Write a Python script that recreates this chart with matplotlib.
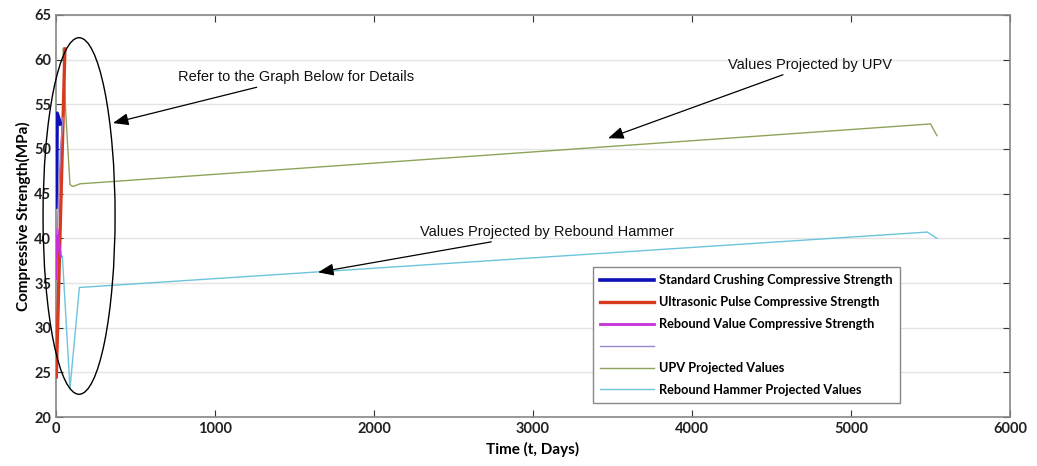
import numpy as np
import matplotlib
matplotlib.use("Agg")
import matplotlib.pyplot as plt
from matplotlib.patches import Ellipse

# series (t in days, strength in MPa)
std_t = [3, 7, 14, 28]
std_v = [43.5, 54.0, 53.6, 52.8]
upv_t = [2, 56]
upv_v = [24.5, 61.2]
rbv_t = [1, 7, 28]
rbv_v = [35.5, 41.0, 38.0]
blank_t = [7, 28, 45]
blank_v = [40.5, 50.0, 53.5]
upv_proj_t = [44, 63, 88, 107, 150, 5500, 5540]
upv_proj_v = [61.2, 53.5, 46.0, 45.8, 46.1, 52.8, 51.5]
rh_proj_t = [40, 88, 147, 5480, 5540]
rh_proj_v = [38.0, 23.2, 34.5, 40.7, 40.0]

labels = ["Standard Crushing Compressive Strength",
          "Ultrasonic Pulse Compressive Strength",
          "Rebound Value Compressive Strength",
          " ",
          "UPV Projected Values",
          "Rebound Hammer Projected Values"]

fig = plt.figure(figsize=(10.37, 4.66), dpi=100)
ax = fig.add_axes([0.054, 0.105, 0.92, 0.863])

ax.plot(std_t, std_v, color="#1010b8", lw=2.6, label=labels[0], zorder=4)
ax.plot(upv_t, upv_v, color="#d83a20", lw=2.4, label=labels[1], zorder=3)
ax.plot(rbv_t, rbv_v, color="#c630d8", lw=2.0, label=labels[2], zorder=5)
ax.plot(blank_t, blank_v, color="#9c88c8", lw=1.0, label=labels[3], zorder=5)
ax.plot(upv_proj_t, upv_proj_v, color="#8ea35a", lw=1.0, label=labels[4], zorder=2)
ax.plot(rh_proj_t, rh_proj_v, color="#6cc4dc", lw=1.0, label=labels[5], zorder=2)

ax.set_xlim(0, 6000)
ax.set_ylim(20, 65)
ax.set_xticks(np.arange(0, 6001, 1000))
ax.set_yticks(np.arange(20, 66, 5))
ax.yaxis.grid(True, color="#e4e4e4", lw=1.0)
ax.set_axisbelow(True)
ax.tick_params(direction="in", length=5, width=0.8, color="#333333",
               top=True, right=True, labelsize=10.5, labelcolor="#222222")
for lab in ax.get_xticklabels() + ax.get_yticklabels():
    lab.set_family("Lato"); lab.set_fontweight("bold")
for s in ax.spines.values():
    s.set_color("#888888"); s.set_linewidth(1.2)

ax.set_xlabel("Time (t, Days)", family="Lato", fontweight="bold", fontsize=11, labelpad=4)
ax.set_ylabel("Compressive Strength(MPa)", family="Lato", fontweight="bold", fontsize=11, labelpad=2)

# ellipse around the early-age data
ell = Ellipse((145, 42.5), 453, 39.9, fill=False, edgecolor="black", lw=1.0, clip_on=False, zorder=6)
ax.add_patch(ell)

ap = dict(arrowstyle="-|>,head_length=0.9,head_width=0.35", color="black", lw=0.9, shrinkA=0, shrinkB=0)
tf = dict(family="Liberation Sans", fontsize=10.5, color="#111111", va="center", ha="left")
ax.annotate("Refer to the Graph Below for Details", xy=(358, 52.9), xytext=(767, 58.0),
            arrowprops=ap, **tf)
ax.annotate("Values Projected by UPV", xy=(3472, 51.2), xytext=(4226, 59.4),
            arrowprops=ap, **tf)
ax.annotate("Values Projected by Rebound Hammer", xy=(1648, 36.2), xytext=(2289, 40.7),
            arrowprops=ap, **tf)

leg = ax.legend(loc="lower left", bbox_to_anchor=(0.563, 0.035, 0.322, 0.345), mode="expand",
                prop={"family": "Lato", "weight": "bold", "size": 9.2}, handlelength=4.2,
                handletextpad=0.4, labelspacing=0.78, borderaxespad=0, fancybox=False,
                framealpha=1, edgecolor="#888888", borderpad=0.55)
leg.get_frame().set_linewidth(1.0)

fig.savefig("out.png", dpi=100)
